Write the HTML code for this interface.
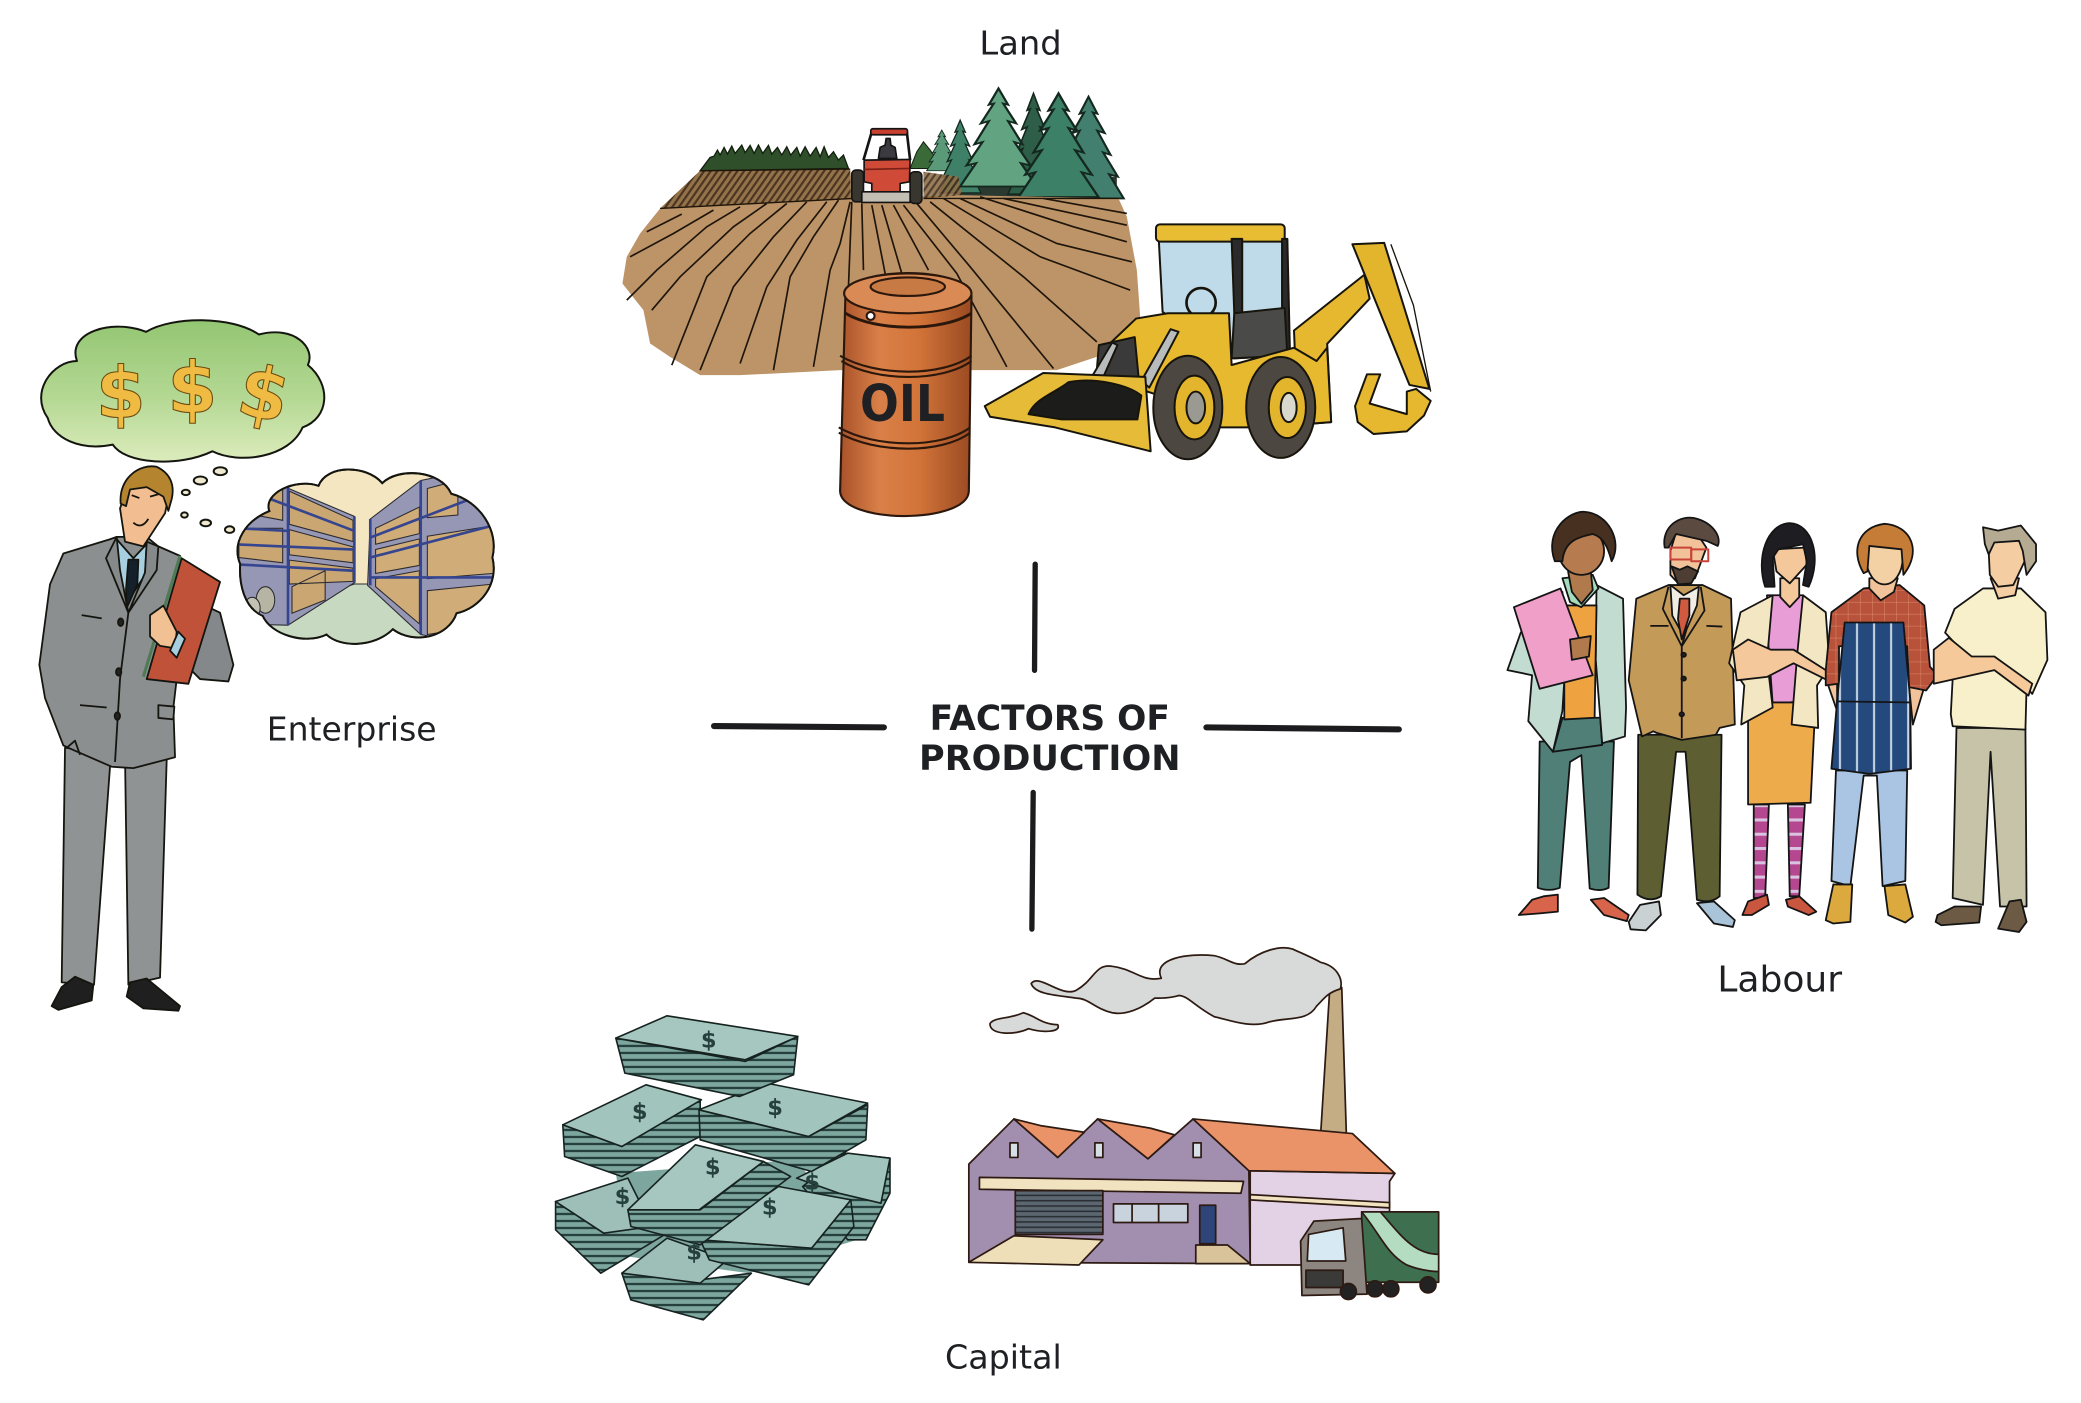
<!DOCTYPE html>
<html lang="en"><head><meta charset="utf-8"><title>Factors of Production</title>
<style>html,body{margin:0;padding:0;background:#fff}svg{display:block}text{font-family:"DejaVu Sans","Liberation Sans",sans-serif;fill:#1f2023}.n *{vector-effect:non-scaling-stroke}</style></head>
<body>
<svg xmlns="http://www.w3.org/2000/svg" width="2081" height="1403" viewBox="0 0 1568 1057" preserveAspectRatio="none">
<defs>
<linearGradient id="gc" x1="0" y1="0" x2="0" y2="1"><stop offset="0" stop-color="#93c672"/><stop offset=".55" stop-color="#b4d893"/><stop offset="1" stop-color="#dcecbd"/></linearGradient>
<linearGradient id="barrel" x1="0" y1="0" x2="1" y2="0"><stop offset="0" stop-color="#a9522a"/><stop offset=".3" stop-color="#d98048"/><stop offset=".6" stop-color="#d27439"/><stop offset="1" stop-color="#9a4a22"/></linearGradient>
<pattern id="str" width="30" height="21" patternUnits="userSpaceOnUse"><rect width="30" height="21" fill="#7da69f"/><rect width="30" height="7" fill="#26403d"/></pattern>
<pattern id="hatch" width="20" height="20" patternUnits="userSpaceOnUse" patternTransform="skewX(-35)"><rect width="20" height="20" fill="#8f6f48"/><rect width="8" height="20" fill="#3f2b19"/></pattern>
<pattern id="tights" width="40" height="42" patternUnits="userSpaceOnUse"><rect width="40" height="42" fill="#b4478f"/><rect width="40" height="9" fill="#d9c3e0"/></pattern>
<pattern id="plaid" width="32" height="35" patternUnits="userSpaceOnUse"><rect width="32" height="35" fill="#b9523b"/><path d="M0 16H32M16 0V35" stroke="#e8a176" stroke-width="1"/></pattern>
<pattern id="apron" width="45" height="40" patternUnits="userSpaceOnUse"><rect width="45" height="40" fill="#244a7d"/><rect x="20" width="5" height="40" fill="#d5e0ee"/></pattern>
<pattern id="shutter" width="6" height="4" patternUnits="userSpaceOnUse"><rect width="6" height="4" fill="#5c6670"/><rect width="6" height="1.2" fill="#2a2f35"/></pattern>
<path id="tree" d="M0,0 L6,14 L3,13 L11,30 L6,28 L15,48 L10,46 L20,66 L14,64 L24,84 L-24,84 L-14,64 L-20,66 L-10,46 L-15,48 L-6,28 L-11,30 L-3,13 L-6,14Z" stroke="#14281f" stroke-width="1.5"/>
<clipPath id="wc"><path id="wcp" d="M181,425 C174,408 186,392 203,385 C198,372 222,360 240,366 C246,350 276,350 288,364 C300,352 332,354 340,372 C362,378 376,400 371,420 C376,440 362,458 344,462 C338,480 312,486 296,474 C282,488 256,488 246,478 C230,486 204,478 198,464 C184,458 180,440 181,425Z"/></clipPath>
</defs>
<rect width="1568" height="1057" fill="#fff"/>

<!-- centre -->
<g fill="none" stroke="#1c1c1e" stroke-linecap="round">
<path d="M780,425 L779.5,505" stroke-width="4"/>
<path d="M538,547 L666,548" stroke-width="4.6"/>
<path d="M909,548 L1054,549.5" stroke-width="4.6"/>
<path d="M778.5,597 L777.5,700" stroke-width="4"/>
</g>
<text x="791" y="550" font-size="26" font-weight="700" text-anchor="middle" textLength="181" lengthAdjust="spacingAndGlyphs">FACTORS OF</text>
<text x="791" y="580" font-size="26" font-weight="700" text-anchor="middle" textLength="197" lengthAdjust="spacingAndGlyphs">PRODUCTION</text>
<text x="738" y="41" font-size="25" textLength="62" lengthAdjust="spacingAndGlyphs">Land</text>
<text x="201" y="558" font-size="25" textLength="128" lengthAdjust="spacingAndGlyphs">Enterprise</text>
<text x="1294" y="747" font-size="27" textLength="94" lengthAdjust="spacingAndGlyphs">Labour</text>
<text x="712" y="1031" font-size="25" textLength="88" lengthAdjust="spacingAndGlyphs">Capital</text>

<!-- LAND field -->
<g transform="translate(482.3,52.8) scale(.2512)">
<path d="M180,302 L210,262 L222,258 L232,240 L240,255 L252,232 L262,252 L275,228 L285,250 L305,225 L315,248 L330,226 L342,250 L355,225 L368,250 L385,226 L395,252 L412,232 L425,255 L440,230 L452,255 L470,232 L480,258 L495,230 L510,258 L528,232 L540,260 L552,230 L565,262 L580,245 L595,270 L610,255 L625,295Z" fill="#2e4f2a" stroke="#14200f" stroke-width="4"/>
<path d="M810,295 L830,245 L850,215 L870,240 L910,295Z" fill="#3a6a38" stroke="#14200f" stroke-width="3"/>
<rect x="950" y="320" width="480" height="65" fill="#2b3a30"/>
<g transform="translate(905,180) scale(1.9,1.45)"><use href="#tree" fill="#5a9a78"/></g>
<g transform="translate(960,150) scale(2.6,2.6)"><use href="#tree" fill="#3f8068"/></g>
<g transform="translate(1180,70) scale(3.2,3.6)"><use href="#tree" fill="#2f5e48"/></g>
<g transform="translate(1075,55) scale(4.8,3.5)"><use href="#tree" fill="#62a382"/></g>
<g transform="translate(1345,80) scale(4.4,3.63)"><use href="#tree" fill="#437f6e"/></g>
<g transform="translate(1255,70) scale(5,3.7)"><use href="#tree" fill="#3c8067"/></g>
<path d="M180,302 L630,297 L640,385 L960,375 L1435,385 L1460,440 L1490,600 L1500,740 L1400,850 L1250,900 L600,900 L300,915 L180,915 L90,860 L30,820 L10,720 L-53,640 L-40,560 L0,490 L60,415Z" fill="#bd9468"/>
<path d="M180,302 L630,297 L632,385 L350,400 L60,415Z" fill="url(#hatch)" opacity=".9"/>
<path d="M850,305 L955,320 L965,375 L850,385Z" fill="url(#hatch)" opacity=".9"/>
<path d="M180,302 L630,297 M60,415 L350,400 L640,385 M850,385 L1435,385" stroke="#1e1409" stroke-width="4" fill="none"/>
<path fill="none" stroke="#1e150b" stroke-width="5" d="M630,395 L600,520 L570,600 L520,890 M595,390 L520,500 L450,620 L400,900 M560,395 L470,510 L380,650 L300,880 M500,395 L400,500 L280,650 L180,900 M440,400 L330,490 L200,620 L95,885 M380,400 L280,470 L120,620 L35,720 M300,410 L200,470 L50,600 L-40,690 M220,420 L100,490 L-30,560 M125,432 L20,485 M635,395 L625,650 M665,400 L670,600 M695,405 L735,610 M725,405 L785,610 M760,405 L865,600 M790,405 L950,610 L1100,890 M830,400 L990,590 L1240,895 M870,395 L1150,620 L1370,815 M910,385 L1200,560 L1470,660 M960,385 L1250,520 L1475,575 M1020,380 L1300,470 L1460,515 M1090,385 L1460,465 M1210,385 L1460,430"/>
<!-- tractor -->
<g stroke="#141414" stroke-width="5" stroke-linejoin="round">
<path d="M670,270 L695,185 L800,185 L810,270" fill="#fff" stroke-width="8"/>
<rect x="692" y="176" width="110" height="18" rx="6" fill="#c8402f"/>
<path d="M715,265 L720,232 L735,225 L738,205 L750,205 L752,225 L765,232 L770,265Z" fill="#3a3a40"/>
<rect x="635" y="300" width="35" height="95" rx="12" fill="#38362f"/>
<rect x="810" y="305" width="35" height="95" rx="12" fill="#38362f"/>
<path d="M672,270 L810,268 L808,335 L780,340 L780,365 L695,365 L695,340 L672,335Z" fill="#d04a38"/>
<path d="M672,298 L808,295" fill="none" stroke="#7c2118"/>
<rect x="665" y="365" width="145" height="32" fill="#c3bfb4"/>
</g>
</g>

<!-- backhoe -->
<g stroke="#17140c" stroke-width="1.5" stroke-linejoin="round">
<path d="M1019,184 L1043,183 L1077,293 L1062,290Z" fill="#e3b52d"/>
<path d="M1048,184 L1065,230 L1078,295" fill="none" stroke-width="1"/>
<path d="M975,249 L1028,207 L1032,225 L1000,259 L1003,318 L978,320Z" fill="#e5b82f"/>
<path d="M1021,306 L1030,282 L1040,282 L1032,304 L1060,312 L1060,295 L1067,293 L1078,302 L1073,313 L1060,325 L1035,327 L1023,318Z" fill="#e5b82f"/>
<path d="M876,235 L873,178 L966,176 L970,268 L930,270Z" fill="#bfdbe9"/>
<rect x="871" y="169" width="97" height="13" rx="3" fill="#e9bd33"/>
<path d="M928,180 L936,180 L936,236 L930,236Z M966,180 L970,180 L972,268 L966,268Z" fill="#2a2a2a"/>
<path d="M930,236 L968,232 L970,268 L928,270Z" fill="#4a4a48"/>
<circle cx="905" cy="228" r="11" fill="none" stroke-width="2"/>
<path d="M856,240 L880,236 L926,236 L928,275 L975,262 L992,272 L1000,262 L1003,318 L950,322 L905,322 L880,300 L830,284 L835,260Z" fill="#e6b92f"/>
<path d="M828,260 L855,254 L858,285 L826,284Z" fill="#3a3a3a"/>
<path d="M822,285 L838,258 L842,260 L830,287Z M860,287 L882,248 L888,250 L866,292Z" fill="#b9bcbd"/>
<path d="M786,281 L863,284 L867,340 L795,322 L746,314 L742,306Z" fill="#e6bb38"/>
<path d="M775,312 C780,300 795,296 805,288 C825,284 850,290 860,298 L857,316 L800,316Z" fill="#1c1c1a"/>
<ellipse cx="895" cy="307" rx="26" ry="39" fill="#4c4740"/>
<ellipse cx="900" cy="307" rx="15" ry="24" fill="#e3b52d"/>
<ellipse cx="901" cy="307" rx="7" ry="12" fill="#9b9a92"/>
<ellipse cx="965" cy="307" rx="26" ry="38" fill="#4c4740"/>
<ellipse cx="970" cy="307" rx="14" ry="23" fill="#e3b52d"/>
<ellipse cx="971" cy="307" rx="6" ry="11" fill="#d8d8cc"/>
</g>
<!-- barrel -->
<g stroke="#2b170b" stroke-width="1.6">
<path d="M633,370 L637,223 C640,200 728,200 732,223 L730,370 C729,395 634,395 633,370Z" fill="url(#barrel)"/>
<ellipse cx="684" cy="221" rx="48" ry="15" fill="#d98a55"/>
<ellipse cx="684" cy="216" rx="28" ry="7" fill="#c87a45"/>
<path d="M637,236 C660,250 710,250 732,236" fill="none" stroke-width="2.2"/>
<path d="M633,268 C660,284 710,284 732,268 M634,272 C660,288 710,288 732,272 M632,322 C660,338 710,338 731,322 M632,326 C660,342 710,342 731,326" fill="none"/>
<circle cx="656" cy="238" r="3" fill="#fff"/>
</g>
<text x="680" y="317" font-size="38" font-weight="700" text-anchor="middle" textLength="64" lengthAdjust="spacingAndGlyphs">OIL</text>

<!-- ENTERPRISE clouds -->
<g stroke="#15150f" stroke-width="1.5" stroke-linejoin="round">
<path d="M36,315 C22,295 40,272 58,272 C50,250 85,240 110,250 C130,238 175,238 195,252 C222,245 238,262 232,275 C250,290 248,315 228,322 C218,345 180,350 160,340 C135,352 95,350 85,335 C60,340 40,330 36,315Z" fill="url(#gc)"/>
<ellipse cx="166" cy="355" rx="5" ry="3" fill="#eee9cf"/><ellipse cx="151" cy="362" rx="5" ry="3" fill="#eee9cf"/><ellipse cx="140" cy="371" rx="3" ry="2" fill="#eee9cf"/><ellipse cx="139" cy="388" rx="2.5" ry="2" fill="#eee9cf"/><ellipse cx="155" cy="394" rx="4" ry="2.5" fill="#eee9cf"/><ellipse cx="173" cy="399" rx="3.5" ry="2.5" fill="#eee9cf"/>
<use href="#wcp" fill="#f3e6c0"/>
</g>
<g font-size="54" font-weight="700" text-anchor="middle" stroke="#6c4a10" stroke-width=".8">
<text x="91" y="315" style="fill:#f0bb42">$</text>
<text x="145" y="311" style="fill:#f0bb42">$</text>
<text transform="translate(195,315) rotate(12)" style="fill:#f0bb42">$</text>
</g>
<g clip-path="url(#wc)" stroke="#2a2a30" stroke-width=".8">
<path d="M180,470 L267,440 L277,440 L372,490 L180,490Z" fill="#c7d9c0"/>
<path d="M175,350 L267,389 L267,439 L217,471 L175,470Z" fill="#9697b4"/>
<path d="M279,391 L317,362 L375,350 L375,490 L317,478 L277,441Z" fill="#9697b4"/>
<path d="M218,370 L266,392 L266,408 L218,395Z M218,399 L266,412 L266,424 L218,418Z M218,422 L266,428 L266,438 L218,440Z M220,442 L245,430 L245,452 L220,462Z M180,398 L213,398 L213,424 L180,420Z M190,366 L213,366 L213,392 L192,388Z" fill="#c9a672"/>
<path d="M283,398 L316,382 L316,402 L283,410Z M283,414 L316,406 L316,426 L283,432Z M283,436 L316,430 L316,470 L283,442Z M322,368 L345,362 L345,388 L322,390Z M322,404 L372,396 L372,432 L322,436Z M322,445 L372,440 L372,470 L322,478Z" fill="#cfac78"/>
<path d="M175,365 L267,400 M175,410 L267,414 M175,425 L267,430 M217,364 L217,471 M267,389 L267,439 M180,398 L217,400" stroke="#36458f" stroke-width="2" fill="none"/>
<path d="M279,405 L375,368 M279,420 L375,395 M279,435 L375,435 M317,362 L317,478 M279,391 L279,441" stroke="#36458f" stroke-width="2" fill="none"/>
<ellipse cx="200" cy="452" rx="7" ry="10" fill="#b6b4a3"/><ellipse cx="190" cy="458" rx="6" ry="8" fill="#c2c1b3"/>
</g>
<use href="#wcp" fill="none" stroke="#15150f" stroke-width="1.5"/>

<!-- man -->
<g class="n" transform="translate(0,226) scale(.2512,.357)" stroke="#15150f" stroke-width="1.8" stroke-linejoin="round">
<path d="M195,945 L185,1440 L282,1445 L330,985 L375,965 L385,1445 L480,1430 L500,970Z" fill="#8f9394"/>
<path d="M155,1490 L185,1450 L225,1428 L280,1445 L275,1478 L175,1498Z M380,1470 L390,1440 L440,1432 L540,1490 L535,1500 L430,1495Z" fill="#1e1f1e"/>
<path d="M600,640 L660,660 L700,770 L685,805 L600,800 L530,750 L540,700Z" fill="#84888a"/>
<path d="M190,535 L330,505 L350,500 L440,500 L475,520 L540,540 L600,700 L540,740 L520,860 L525,965 L400,988 L335,985 L205,945 L190,940 L135,840 L118,770 L150,600Z" fill="#8b8f90"/>
<path d="M350,505 L400,545 L440,515 L435,580 L380,640 L355,560Z" fill="#a8cfe0"/>
<path d="M385,548 L415,548 L412,600 L380,650 L378,610Z" fill="#15212a"/>
<path d="M350,500 L318,545 L385,660 L360,570Z M440,510 L475,520 L470,570 L385,660 L435,575Z" fill="#85898a"/>
<path d="M385,660 L360,800 L345,975 M245,665 L305,672 M240,855 L320,860 M200,945 L225,930 L240,960" fill="none"/>
<circle cx="362" cy="680" r="8" fill="#222"/><circle cx="356" cy="785" r="8" fill="#222"/><circle cx="352" cy="878" r="8" fill="#222"/>
<path d="M475,855 L523,858 L520,885 L475,882Z" fill="#8b8f90"/>
<path d="M545,545 L660,595 L565,810 L440,800Z" fill="#c1523a"/>
<path d="M540,540 L430,795" fill="none" stroke="#4e7a55" stroke-width="3"/>
<path d="M450,665 L490,645 L530,700 L525,735 L480,730 L450,710Z" fill="#f1c093"/>
<path d="M535,700 L555,715 L530,755 L510,740Z" fill="#a8cfe0"/>
<path d="M360,440 L375,510 L430,520 L495,450 L510,400 L440,370 L380,400Z" fill="#f2bd90"/>
<path d="M362,430 C355,375 420,345 470,352 C510,365 525,390 515,420 L505,445 L490,415 L440,395 L390,400 L378,435Z" fill="#b4842f"/>
<path d="M400,470 Q425,485 445,462 M395,412 L418,418 M450,415 L475,410" fill="none"/>
</g>

<!-- LABOUR -->
<g class="n" transform="translate(1123,369) scale(.2855,.2563)" stroke="#141414" stroke-width="1.8" stroke-linejoin="round">
<!-- P1 -->
<path d="M130,740 L125,1170 Q155,1182 183,1170 L210,800 L240,780 L262,1172 Q290,1182 312,1170 L326,740Z" fill="#4f7f77"/>
<path d="M75,1250 L110,1205 L140,1195 L178,1190 L178,1240 L130,1245Z M265,1205 L300,1200 L365,1250 L360,1268 L300,1250Z" fill="#d9644c"/>
<path d="M190,670 L290,670 L295,750 L165,770Z" fill="#4f7f77"/>
<path d="M280,280 L350,320 L358,640 L355,725 L295,745 L278,500Z" fill="#c3dcd2"/>
<path d="M195,340 L280,340 L275,670 L195,675Z" fill="#efa340"/>
<path d="M190,300 L130,330 L80,420 L45,530 L110,545 L100,680 L165,770 L190,650 L195,560Z" fill="#c3dcd2"/>
<path d="M190,260 L270,250 L285,290 L240,345 L210,330Z" fill="#a5dcbc"/>
<path d="M205,240 L265,240 L270,295 L240,335 L215,300Z" fill="#b07a4d"/>
<path d="M62,345 L185,290 L270,545 L130,585Z" fill="#ef9fc8"/>
<path d="M210,440 L265,430 L260,490 L215,500Z" fill="#b07a4d"/>
<ellipse cx="240" cy="180" rx="60" ry="70" fill="#b67b4e"/>
<path d="M170,210 C140,120 210,60 250,65 C310,70 350,150 320,210 C310,170 300,140 270,130 C230,140 195,150 190,210Z" fill="#47301f"/>
<!-- P2 -->
<path d="M390,720 L388,1190 Q420,1215 450,1195 L490,770 L515,770 L545,1205 Q580,1218 605,1195 L610,720Z" fill="#5e5e33"/>
<path d="M365,1270 L395,1220 L445,1210 L450,1250 L410,1295 L370,1292Z" fill="#c9d1d2"/>
<path d="M545,1215 L590,1210 L645,1265 L640,1285 L590,1275Z" fill="#a9c3d8"/>
<path d="M470,280 L560,280 L635,320 L645,690 L605,700 L595,720 L505,735 L440,715 L430,710 L400,725 L365,560 L385,320Z" fill="#c49a58"/>
<path d="M475,280 L510,310 L550,285 L545,340 L510,430 L480,370Z" fill="#f1ede5"/>
<path d="M500,320 L525,320 L525,370 L505,440 L495,380Z" fill="#cf5a3f"/>
<path d="M470,285 L455,350 L505,460 L520,400 M555,285 L565,355 L505,460 M505,460 L505,730 M422,400 L470,400 M570,400 L612,402" fill="none"/>
<circle cx="510" cy="485" r="6" fill="#222"/><circle cx="510" cy="555" r="6" fill="#222"/><circle cx="505" cy="660" r="6" fill="#222"/>
<path d="M475,180 L475,250 L500,280 L540,260 L570,170 L540,120 L490,125Z" fill="#f2c39a"/>
<path d="M478,225 L500,235 L520,225 L548,240 L530,275 L495,278Z" fill="#4d3d32"/>
<path d="M460,170 C450,110 500,70 545,85 C590,100 610,140 600,165 L570,150 L490,130 L470,170Z" fill="#5b4a3f"/>
<rect x="475" y="170" width="55" height="35" fill="none" stroke="#c8443a" stroke-width="2"/><rect x="530" y="175" width="45" height="35" fill="none" stroke="#c8443a" stroke-width="2"/>
<!-- P3 -->
<path d="M695,925 L735,925 L725,1200 L695,1200Z M785,925 L830,925 L815,1195 L790,1195Z" fill="url(#tights)"/>
<path d="M665,1250 L680,1210 L730,1190 L735,1220 L690,1250Z M780,1205 L815,1195 L860,1240 L840,1250 L785,1225Z" fill="#c9563f"/>
<path d="M730,310 L825,310 L835,620 L745,630 L730,400Z" fill="#e99dd6"/>
<path d="M680,660 L740,625 L835,625 L855,690 L845,920 L680,925Z" fill="#eeab4c"/>
<path d="M745,310 L660,360 L630,510 L670,575 L662,690 L745,640 L730,500Z M825,310 L885,360 L895,520 L862,575 L865,700 L795,690 L810,480Z" fill="#f3e6c2"/>
<path d="M640,470 L680,440 L740,470 L800,470 L885,530 L890,560 L800,510 L730,550 L650,560Z" fill="#f4c89a"/>
<path d="M765,260 L815,260 L815,315 L790,345 L765,315Z" fill="#f4c89a"/>
<path d="M745,175 L830,170 L835,220 L790,275 L755,240Z" fill="#f4c89a"/>
<path d="M725,285 C700,200 730,100 790,98 C850,100 875,200 840,285 L825,280 L835,210 L825,160 L760,175 L745,200 L750,285Z" fill="#1e1d22"/>
<!-- P4 -->
<path d="M912,825 L900,1150 L950,1165 L985,840 L1020,840 L1035,1165 L1095,1150 L1100,825Z" fill="#a9c5e3"/>
<path d="M885,1265 L905,1160 L955,1160 L950,1270 L905,1275Z M1040,1165 L1095,1160 L1115,1255 L1095,1272 L1050,1250Z" fill="#dba93e"/>
<path d="M890,570 L915,570 L915,650Z M1105,580 L1145,580 L1115,690Z" fill="#f2c39a"/>
<path d="M985,290 L1080,280 L1145,340 L1160,520 L1180,545 L1150,590 L1105,580 L1100,460 L920,460 L920,570 L885,575 L885,530 L900,360Z" fill="url(#plaid)"/>
<path d="M935,390 L1090,390 L1108,620 L1110,820 L1000,835 L900,820 L915,620Z" fill="url(#apron)"/>
<path d="M915,622 L1108,625" fill="none"/>
<path d="M1000,260 L1075,260 L1065,300 L1030,325 L1000,290Z" fill="#f2c39a"/>
<ellipse cx="1040" cy="200" rx="48" ry="78" fill="#f4d0a5"/>
<path d="M985,245 C950,180 970,110 1040,100 C1110,105 1140,180 1090,250 L1085,175 L1000,165 L995,240Z" fill="#c57c36"/>
<!-- P5 -->
<path d="M1230,700 L1220,1200 L1300,1220 L1320,770 L1345,1225 L1415,1225 L1412,700Z" fill="#c6c3a8"/>
<path d="M1175,1270 L1180,1250 L1225,1225 L1295,1225 L1290,1272 L1190,1280Z M1340,1290 L1370,1210 L1400,1205 L1415,1270 L1395,1300Z" fill="#6d5a44"/>
<path d="M1300,290 L1400,290 L1465,360 L1470,500 L1430,600 L1415,580 L1412,705 L1220,695 L1215,660 L1225,450 L1200,420 L1225,350Z" fill="#f8f0cb"/>
<path d="M1170,470 L1210,435 L1270,490 L1330,490 L1430,570 L1420,605 L1330,530 L1170,570Z" fill="#f5c99a"/>
<path d="M1320,260 L1395,260 L1385,310 L1340,320Z" fill="#f4cda3"/>
<path d="M1315,180 L1330,140 L1400,140 L1410,210 L1380,280 L1340,285 L1318,250Z" fill="#f4cda3"/>
<path d="M1300,110 L1340,120 L1400,105 L1440,160 L1440,210 L1415,250 L1405,180 L1395,150 L1330,155 L1315,190 L1305,160Z" fill="#b5ab92"/>
</g>

<!-- money -->
<g class="n" transform="translate(405,708) scale(.454,.2512)" stroke="#16221f" stroke-width="1.6" stroke-linejoin="round">
<path d="M130,700 L430,660 L530,900 L350,1000 L150,950Z" fill="#7da69f" stroke="none"/>
<path d="M510,640 L585,655 L585,760 L545,900 L515,900 L440,740Z" fill="url(#str)"/>
<path d="M430,715 L515,640 L585,655 L570,790 L500,760Z" fill="#a1c4bc"/>
<path d="M30,785 L30,870 L105,1000 L215,880 L170,850 L110,880Z" fill="url(#str)"/>
<path d="M30,785 L150,715 L190,860 L110,880Z" fill="#9dbfb8"/>
<path d="M140,1000 L155,1080 L275,1140 L355,1000 L270,1020Z" fill="url(#str)"/>
<path d="M140,1000 L215,895 L315,960 L270,1030Z" fill="#9dbfb8"/>
<path d="M270,900 L285,960 L450,1035 L525,860 L520,780 L455,925Z" fill="url(#str)"/>
<path d="M270,900 L400,740 L520,780 L455,925Z" fill="#a6c7bf"/>
<path d="M42,555 L45,650 L140,710 L270,590 L270,480 L140,620Z" fill="url(#str)"/>
<path d="M42,555 L180,435 L272,480 L140,620Z" fill="#a1c4bc"/>
<path d="M268,510 L270,600 L455,695 L545,600 L548,495 L450,590Z" fill="url(#str)"/>
<path d="M268,510 L380,430 L548,490 L450,590Z" fill="#a1c4bc"/>
<path d="M150,810 L155,860 L270,915 L420,710 L375,665 L270,810Z" fill="url(#str)"/>
<path d="M150,810 L262,615 L375,665 L268,810Z" fill="#a6c7bf"/>
<path d="M130,295 L145,400 L335,470 L425,405 L432,290 L345,365Z" fill="url(#str)"/>
<path d="M130,295 L215,228 L432,290 L345,360Z" fill="#a6c7bf"/>
</g>
<g font-size="17" text-anchor="middle" font-weight="700">
<text x="534" y="789" style="fill:#26403d">$</text><text x="482" y="843" style="fill:#26403d">$</text><text x="584" y="840" style="fill:#26403d">$</text><text x="537" y="885" style="fill:#26403d">$</text><text x="580" y="915" style="fill:#26403d">$</text><text x="612" y="896" style="fill:#26403d">$</text><text x="523" y="949" style="fill:#26403d">$</text><text x="469" y="907" style="fill:#26403d">$</text>
</g>

<!-- factory -->
<g stroke="#2d1a12" stroke-width="1.3" stroke-linejoin="round">
<path d="M1002,744 L1011,744 L1014.5,856 L995,856Z" fill="#c4ad85"/>
<path d="M777,741 C783,733 800,752 811,746 C825,738 825,726 838,728 C855,730 860,740 875,737 C868,722 895,718 915,720 C925,722 930,728 938,726 C950,716 965,712 974,715 C985,720 990,722 995,725 C1008,728 1012,738 1010,745 C1000,748 998,752 992,758 C985,770 970,766 956,770 C942,775 925,768 915,766 C900,758 895,750 888,750 C882,752 875,752 870,752 C860,760 848,765 838,763 C825,760 820,752 811,752 C800,750 780,750 777,741Z" fill="#d8d9d9"/>
<path d="M746,771 C750,766 760,768 771,763 C780,765 785,772 797,772 C800,778 785,778 775,775 C765,780 745,780 746,771Z" fill="#d8d9d9"/>
<path d="M942,882 L1051,884 L1047,890 L1047,953 L942,953Z" fill="#e3d2e5"/>
<path d="M730,877 L764,843 L797,872 L827,843 L865,873 L899,843 L941,882 L942,952 L730,951Z" fill="#a28fb0"/>
<path d="M764,843 L784,848 L817,853 L797,872Z M827,843 L867,850 L885,855 L865,873Z M899,843 L1019,854 L1051,884 L941,882Z" fill="#ea9368"/>
<path d="M738,887 L937,890 L935,899 L738,896Z" fill="#f1e3bf"/>
<path d="M942,904 L1047,910 L1047,906 L942,900Z" fill="#f1e3bf"/>
<rect x="765" y="897" width="66" height="33" fill="url(#shutter)"/>
<path d="M764,931 L831,934 L813,953 L730,951Z" fill="#efdfb8"/>
<rect x="839" y="907" width="56" height="14" fill="#c9d3de"/>
<path d="M853,907V921M873,907V921" fill="none"/>
<rect x="904" y="908" width="12" height="29" fill="#2d4579"/>
<path d="M901,938 L925,938 L942,952 L901,952Z" fill="#d8c39b"/>
<rect x="761" y="861" width="6" height="11" fill="#d7dfe6"/><rect x="825" y="861" width="6" height="11" fill="#d7dfe6"/><rect x="899" y="861" width="6" height="11" fill="#d7dfe6"/>
<path d="M1026,913 L1084,913 L1084,966 L1026,966Z" fill="#3e6f4f"/>
<path d="M1026,913 C1040,930 1045,945 1060,953 C1072,958 1084,958 1084,958 L1084,945 C1065,945 1055,930 1040,913Z" fill="#b4dcc0"/>
<path d="M990,920 L1026,918 L1030,975 L981,976 L980,935Z" fill="#8d8680"/>
<path d="M986,930 L1012,925 L1014,950 L985,950Z" fill="#d7e9f2"/>
<path d="M984,957 L1012,957 L1012,970 L984,970Z" fill="#3a3a38"/>
<circle cx="1016" cy="973" r="6" fill="#222"/><circle cx="1036" cy="971" r="6" fill="#222"/><circle cx="1048" cy="971" r="6" fill="#222"/><circle cx="1076" cy="968" r="6" fill="#222"/>
</g>
</svg>
</body></html>
